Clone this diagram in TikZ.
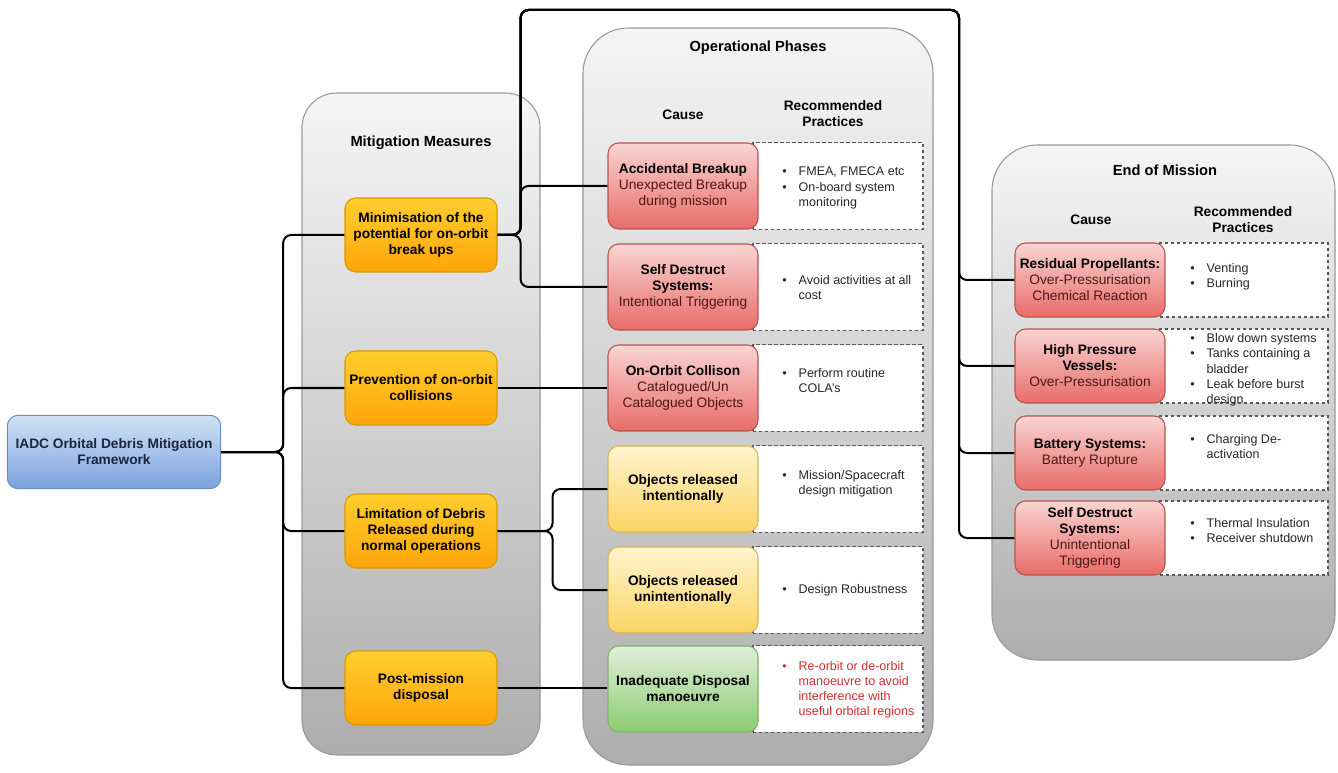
\documentclass[tikz,border=0pt]{standalone}
\usepackage{fontspec}
\setmainfont{Liberation Sans}

\definecolor{causetxt}{RGB}{80,22,22}
\definecolor{pracred}{RGB}{208,45,45}
\definecolor{navytxt}{RGB}{26,37,64}

\tikzset{
	panel/.style={draw=black!40, line width=0.8pt, top color=black!4, bottom color=black!32},
	paneltitle/.style={font=\fontsize{11}{13}\selectfont\bfseries},
	colhead/.style={font=\fontsize{10.3}{12}\selectfont\bfseries, align=center},
	box/.style={rounded corners=8pt, line width=0.8pt, align=center, inner sep=2pt,
		font=\fontsize{10.3}{12}\selectfont},
	framework/.style={box, draw={rgb,255:red,108;green,142;blue,191},
		top color={rgb,255:red,210;green,225;blue,246}, bottom color={rgb,255:red,122;green,162;blue,222},
		minimum width=160pt, minimum height=55pt, text=navytxt, font=\fontsize{10.3}{12}\selectfont\bfseries},
	measure/.style={box, draw={rgb,255:red,215;green,155;blue,0},
		top color={rgb,255:red,255;green,206;blue,45}, bottom color={rgb,255:red,255;green,165;blue,10},
		minimum width=114pt, minimum height=55.5pt, font=\fontsize{10.3}{12}\selectfont\bfseries},
	causered/.style={box, draw={rgb,255:red,184;green,84;blue,80},
		top color={rgb,255:red,249;green,212;blue,210}, bottom color={rgb,255:red,232;green,108;blue,104},
		minimum width=112.5pt, minimum height=64.5pt, text=causetxt},
	causeyellow/.style={box, draw={rgb,255:red,214;green,182;blue,86},
		top color={rgb,255:red,255;green,244;blue,206}, bottom color={rgb,255:red,252;green,212;blue,100},
		minimum width=112.5pt, minimum height=64.5pt, font=\fontsize{10.3}{12}\selectfont\bfseries},
	causegreen/.style={box, draw={rgb,255:red,130;green,179;blue,102},
		top color={rgb,255:red,222;green,238;blue,218}, bottom color={rgb,255:red,140;green,204;blue,112},
		minimum width=112.5pt, minimum height=64.5pt, font=\fontsize{10.3}{12}\selectfont\bfseries},
	endcause/.style={causered, minimum height=55.5pt},
	dashbox/.style={draw=black!65, dash pattern=on 2.5pt off 2pt, line width=0.9pt, fill=white,
		minimum width=127.5pt, minimum height=65pt},
	enddash/.style={dashbox, minimum width=126pt, minimum height=55.5pt},
	bullets/.style={anchor=west, inner sep=0pt, text=black!85, font=\fontsize{9.4}{11.3}\selectfont},
	link/.style={draw, line width=1.5pt, rounded corners=6pt},
}
\newcommand{\hd}[1]{\textcolor{black}{\textbf{#1}}}
\newcommand{\practices}[1]{\begin{tabular}{@{}l@{\hspace{9pt}}l@{}}#1\end{tabular}}

\begin{document}
\begin{tikzpicture}[x=0.75pt, y=-0.75pt]
	\fill[white] (0,0) rectangle (1338,773);
	\useasboundingbox (0,0) rectangle (1338,773);
	
	% Colonnes
	\draw[panel, rounded corners=26pt] (302,93) rectangle (540,755);
	\draw[panel, rounded corners=34pt] (583,28) rectangle (933,765);
	\draw[panel, rounded corners=34pt] (992,145) rectangle (1335,660);
	
	\node[paneltitle] (mitTitle) at (421,143) {Mitigation Measures};
	\node[paneltitle] (opsTitle) at (758,48) {Operational Phases};
	\node[colhead] (opsCause) at (683,115) {Cause};
	\node[colhead] (opsPract) at (833,114) {Recommended\\Practices};
	\node[paneltitle] (endTitle) at (1165,170) {End of Mission};
	\node[colhead] (endCause) at (1091,220) {Cause};
	\node[colhead] (endPract) at (1243,220) {Recommended\\Practices};
	
	% Cadre principal et mesures
	\node[framework] (iadc) at (114,452) {IADC Orbital Debris Mitigation\\Framework};
	\node[measure] (min) at (421,235) {Minimisation of the\\potential for on-orbit\\break ups};
	\node[measure] (prev) at (421,388) {Prevention of on-orbit\\collisions};
	\node[measure] (lim) at (421,531) {Limitation of Debris\\Released during\\normal operations};
	\node[measure] (post) at (421,688) {Post-mission\\disposal};
	
	% Phases opérationnelles
	\node[dashbox] (accP) at (838,186) {};
	\node[dashbox] (sdP) at (838,287) {};
	\node[dashbox] (collP) at (838,388) {};
	\node[dashbox] (intentP) at (838,489) {};
	\node[dashbox] (unintP) at (838,590) {};
	\node[dashbox] (dispP) at (838,689) {};
	
	\node[causered] (acc) at (683,186) {\hd{Accidental Breakup}\\Unexpected Breakup\\during mission};
	\node[causered] (sd) at (683,287) {\hd{Self Destruct}\\\hd{Systems:}\\Intentional Triggering};
	\node[causered] (coll) at (683,388) {\hd{On-Orbit Collison}\\Catalogued/Un\\Catalogued Objects};
	\node[causeyellow] (intent) at (683,489) {Objects released\\intentionally};
	\node[causeyellow] (unint) at (683,590) {Objects released\\unintentionally};
	\node[causegreen] (disp) at (683,689) {Inadequate Disposal\\manoeuvre};
	
	\node[bullets] (accB) at (782,188) {\practices{\textbullet & FMEA, FMECA etc\\ \textbullet & On-board system\\ & monitoring}};
	\node[bullets] (sdB) at (782,289) {\practices{\textbullet & Avoid activities at all\\ & cost}};
	\node[bullets] (collB) at (782,382) {\practices{\textbullet & Perform routine\\ & COLA's}};
	\node[bullets] (intentB) at (782,484) {\practices{\textbullet & Mission/Spacecraft\\ & design mitigation}};
	\node[bullets] (unintB) at (782,590) {\practices{\textbullet & Design Robustness}};
	\node[bullets, text=pracred] (dispB) at (782,690) {\practices{\textbullet & Re-orbit or de-orbit\\ & manoeuvre to avoid\\ & interference with\\ & useful orbital regions}};
	
	% Fin de mission
	\node[enddash] (resP) at (1244,280) {};
	\node[enddash] (hpP) at (1244,366) {};
	\node[enddash] (batP) at (1244,453) {};
	\node[enddash] (sdeP) at (1244,538) {};
	
	\node[endcause] (res) at (1090,280) {\hd{Residual Propellants:}\\Over-Pressurisation\\Chemical Reaction};
	\node[endcause] (hp) at (1090,366) {\hd{High Pressure}\\\hd{Vessels:}\\Over-Pressurisation};
	\node[endcause] (bat) at (1090,453) {\hd{Battery Systems:}\\Battery Rupture};
	\node[endcause] (sde) at (1090,538) {\hd{Self Destruct}\\\hd{Systems:}\\Unintentional\\Triggering};
	
	\node[bullets] (resB) at (1190,277) {\practices{\textbullet & Venting\\ \textbullet & Burning}};
	\node[bullets] (hpB) at (1190,370) {\practices{\textbullet & Blow down systems\\ \textbullet & Tanks containing a\\ & bladder\\ \textbullet & Leak before burst\\ & design}};
	\node[bullets] (batB) at (1190,448) {\practices{\textbullet & Charging De-\\ & activation}};
	\node[bullets] (sdeB) at (1190,532) {\practices{\textbullet & Thermal Insulation\\ \textbullet & Receiver shutdown}};
	
	% Liaisons
	\draw[link] (iadc.east) -- ++(62,0) |- (min.west);
	\draw[link] (iadc.east) -- ++(62,0) |- (prev.west);
	\draw[link] (iadc.east) -- ++(62,0) |- (lim.west);
	\draw[link] (iadc.east) -- ++(62,0) |- (post.west);
	
	\coordinate (loopTop) at (959,10);
	\draw[link] (min.east) -- ++(23,0) |- (acc.west);
	\draw[link] (min.east) -- ++(23,0) |- (sd.west);
	\draw[link] (min.east) -- ++(23,0) |- (loopTop) |- (res.west);
	\draw[link] (min.east) -- ++(23,0) |- (loopTop) |- (hp.west);
	\draw[link] (min.east) -- ++(23,0) |- (loopTop) |- (bat.west);
	\draw[link] (min.east) -- ++(23,0) |- (loopTop) |- (sde.west);
	
	\draw[link] (prev.east) -- (prev.east -| coll.west);
	\draw[link] (lim.east) -- ++(55,0) |- (intent.west);
	\draw[link] (lim.east) -- ++(55,0) |- (unint.west);
	\draw[link] (post.east) -- (post.east -| disp.west);
\end{tikzpicture}
\end{document}
